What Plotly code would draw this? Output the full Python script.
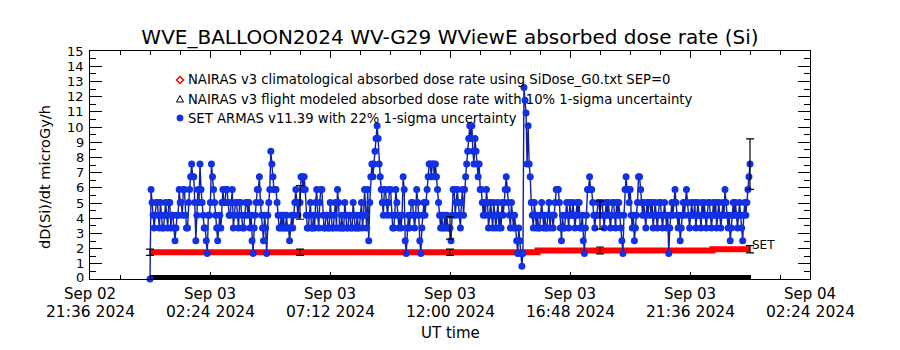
import pandas as pd
import plotly.graph_objects as go

TITLE = "WVE_BALLOON2024 WV-G29 WViewE absorbed dose rate (Si)"
FONT = "DejaVu Sans"

# SET ARMAS v11.39 absorbed dose rate (microGy/h), one sample every 150 s
set_times = pd.date_range("2024-09-03 00:00", "2024-09-04 00:00", freq="150s")
set_dose = [
    # 00 UT
    0.0, 5.88, 5.04, 4.2, 3.36, 4.2, 5.04, 5.04, 4.2, 3.36, 5.04, 4.2,
    3.36, 3.36, 4.2, 5.04, 4.2, 3.36, 5.04, 5.04, 3.36, 4.2, 4.2, 3.36,
    # 01 UT
    2.52, 3.36, 4.2, 4.2, 5.88, 5.04, 5.04, 4.2, 5.88, 5.88, 4.2, 3.36,
    3.36, 5.04, 5.88, 6.72, 7.56, 6.72, 6.72, 5.04, 2.52, 4.2, 5.88, 5.04,
    # 02 UT
    7.56, 5.88, 5.04, 4.2, 3.36, 3.36, 2.52, 1.68, 4.2, 4.2, 5.04, 7.56,
    6.72, 5.88, 5.04, 4.2, 3.36, 2.52, 3.36, 4.2, 3.36, 5.04, 5.88, 5.04,
    # 03 UT
    5.04, 5.88, 5.88, 5.04, 4.2, 4.2, 5.04, 5.88, 3.36, 4.2, 5.04, 5.04,
    4.2, 3.36, 5.04, 5.04, 4.2, 3.36, 3.36, 4.2, 5.04, 5.04, 4.2, 5.04,
    # 04 UT
    3.36, 4.2, 2.52, 1.68, 3.36, 4.2, 5.04, 5.88, 5.88, 6.72, 5.04, 4.2,
    3.36, 2.52, 4.2, 3.36, 1.68, 4.2, 5.04, 5.88, 8.4, 7.56, 6.72, 5.88,
    # 05 UT
    5.88, 5.88, 5.04, 4.2, 3.36, 3.36, 4.2, 3.36, 4.2, 3.36, 3.36, 4.2,
    3.36, 3.36, 2.52, 3.36, 4.2, 3.36, 4.2, 5.04, 5.88, 5.04, 4.2, 5.04,
    # 06 UT
    5.04, 6.72, 6.72, 5.88, 6.72, 5.88, 4.2, 3.36, 3.36, 4.2, 5.04, 3.36,
    3.36, 4.2, 3.36, 5.04, 5.88, 4.2, 3.36, 5.04, 5.88, 5.88, 4.2, 3.36,
    # 07 UT
    3.36, 4.2, 4.2, 3.36, 3.36, 5.04, 4.2, 3.36, 3.36, 4.2, 5.04, 3.36,
    5.88, 5.04, 3.36, 3.36, 4.2, 3.36, 3.36, 5.04, 4.2, 3.36, 3.36, 4.2,
    # 08 UT
    4.2, 3.36, 3.36, 5.04, 4.2, 3.36, 3.36, 4.2, 3.36, 3.36, 4.2, 5.04,
    3.36, 4.2, 5.88, 4.2, 3.36, 5.88, 2.52, 5.04, 6.72, 7.56, 6.72, 7.56,
    # 09 UT
    8.4, 9.24, 10.08, 9.24, 7.56, 6.72, 5.88, 5.04, 4.2, 5.88, 5.88, 5.04,
    4.2, 5.04, 5.88, 5.88, 4.2, 3.36, 3.36, 4.2, 5.88, 5.04, 4.2, 3.36,
    # 10 UT
    4.2, 3.36, 4.2, 6.72, 5.88, 2.52, 1.68, 3.36, 4.2, 3.36, 4.2, 5.04,
    5.04, 4.2, 3.36, 4.2, 5.88, 5.04, 4.2, 2.52, 1.68, 3.36, 4.2, 5.04,
    # 11 UT
    4.2, 5.04, 5.88, 6.72, 7.56, 7.56, 6.72, 7.56, 7.56, 6.72, 7.56, 6.72,
    5.88, 5.04, 4.2, 3.36, 4.2, 3.36, 3.36, 4.2, 3.36, 4.2, 3.36, 3.36,
    # 12 UT
    3.36, 2.52, 4.2, 5.88, 5.88, 4.2, 5.04, 5.88, 5.04, 4.2, 3.36, 5.04,
    5.88, 4.2, 5.88, 6.72, 7.56, 8.4, 9.24, 10.08, 9.24, 10.08, 8.4, 7.56,
    # 13 UT
    9.24, 8.4, 7.56, 6.72, 7.56, 5.88, 5.88, 5.04, 4.2, 5.04, 4.2, 5.88,
    5.04, 3.36, 4.2, 5.04, 4.2, 3.36, 5.04, 4.2, 3.36, 4.2, 5.04, 3.36,
    # 14 UT
    4.2, 3.36, 5.04, 4.2, 5.04, 5.88, 6.72, 5.88, 5.04, 4.2, 3.36, 5.04,
    4.2, 3.36, 4.2, 3.36, 2.52, 1.68, 3.36, 2.52, 1.68, 0.84, 1.68, 12.6,
    # 15 UT
    11.76, 10.92, 7.56, 10.08, 7.56, 6.72, 5.04, 4.2, 3.36, 5.04, 4.2, 3.36,
    4.2, 3.36, 3.36, 4.2, 5.04, 4.2, 3.36, 4.2, 3.36, 3.36, 4.2, 5.04,
    # 16 UT
    3.36, 4.2, 4.2, 3.36, 4.2, 5.04, 5.88, 5.88, 5.88, 5.04, 3.36, 2.52,
    4.2, 3.36, 3.36, 4.2, 5.04, 4.2, 3.36, 5.04, 4.2, 4.2, 5.04, 4.2,
    # 17 UT
    3.36, 4.2, 5.04, 4.2, 5.04, 3.36, 3.36, 4.2, 2.52, 1.68, 3.36, 4.2,
    5.88, 5.88, 6.72, 5.88, 5.88, 5.04, 4.2, 3.36, 4.2, 4.2, 5.04, 5.04,
    # 18 UT
    4.2, 5.04, 5.04, 4.2, 3.36, 4.2, 5.04, 4.2, 5.04, 4.2, 3.36, 4.2,
    5.04, 5.04, 4.2, 3.36, 5.04, 4.2, 5.04, 4.2, 3.36, 2.52, 1.68, 4.2,
    # 19 UT
    5.88, 6.72, 5.88, 5.88, 5.04, 5.88, 4.2, 3.36, 4.2, 2.52, 3.36, 4.2,
    5.04, 6.72, 6.72, 5.88, 5.04, 4.2, 5.04, 4.2, 3.36, 5.04, 4.2, 5.04,
    # 20 UT
    5.04, 4.2, 5.04, 3.36, 4.2, 5.04, 4.2, 3.36, 4.2, 5.04, 5.04, 4.2,
    3.36, 4.2, 5.04, 4.2, 3.36, 4.2, 1.68, 3.36, 4.2, 5.04, 4.2, 5.04,
    # 21 UT
    5.88, 5.04, 4.2, 3.36, 4.2, 2.52, 3.36, 4.2, 5.04, 4.2, 5.04, 5.88,
    5.04, 4.2, 3.36, 4.2, 5.04, 4.2, 4.2, 5.04, 3.36, 4.2, 5.04, 4.2,
    # 22 UT
    4.2, 3.36, 5.04, 4.2, 5.04, 4.2, 3.36, 4.2, 5.04, 5.04, 4.2, 3.36,
    4.2, 5.04, 4.2, 5.04, 3.36, 4.2, 5.04, 4.2, 3.36, 4.2, 5.04, 4.2,
    # 23 UT
    5.88, 5.04, 4.2, 3.36, 4.2, 2.52, 3.36, 4.2, 5.04, 4.2, 5.04, 4.2,
    3.36, 4.2, 5.04, 4.2, 3.36, 2.52, 4.2, 5.04, 4.2, 5.04, 5.88, 6.72,
    # 24 UT
    7.56,
]
# samples that carry the 22 % 1-sigma error bar (every 6 hours)
set_err_idx = [144, 288, 432, 576]

# NAIRAS v3 climatological dose rate, every 30 minutes
nairas_clim_times = pd.date_range("2024-09-03 00:00", "2024-09-04 00:00", freq="30min")
nairas_clim = [
    1.76, 1.76, 1.76, 1.76, 1.76, 1.76, 1.76, 1.76, 1.76, 1.76,
    1.76, 1.76, 1.76, 1.76, 1.76, 1.76, 1.76, 1.76, 1.76, 1.76,
    1.76, 1.76, 1.76, 1.76, 1.76, 1.76, 1.76, 1.76, 1.76, 1.76,
    1.76, 1.88, 1.88, 1.88, 1.88, 1.88, 1.88, 1.88, 1.88, 1.88,
    1.88, 1.88, 1.88, 1.88, 1.88, 1.96, 1.96, 1.96, 1.96,
]
clim_err_idx = [0, 12, 24, 36, 48]

# NAIRAS v3 flight modeled dose rate, hourly
nairas_flight_times = pd.date_range("2024-09-03 00:00", "2024-09-04 00:00", freq="60min")
nairas_flight = [
    0.0, 0.0, 0.0, 0.0, 0.0, 0.0, 0.0, 0.0, 0.0, 0.0, 0.0, 0.0, 0.0,
    0.0, 0.0, 0.0, 0.0, 0.0, 0.0, 0.0, 0.0, 0.0, 0.0, 0.0, 0.0,
]

x_range = ["2024-09-02 21:36", "2024-09-04 02:24"]
x_ticks = pd.date_range("2024-09-02 21:36", "2024-09-04 02:24", freq="288min")
y_ticks = list(range(0, 16))

legend_labels = [
    "NAIRAS v3 climatological absorbed dose rate using SiDose_G0.txt SEP=0",
    "NAIRAS v3 flight modeled absorbed dose rate with 10% 1-sigma uncertainty",
    "SET ARMAS v11.39 with 22% 1-sigma uncertainty",
]

BLUE_LINE = "#12209c"
BLUE_MARK = "#1230e4"
RED = "#ff0000"

# plot box in pixels
L, R, T, B = 90, 810, 51, 279
W, H = 900, 350


def px(x):
    return (x - L) / (R - L)


def py(y):
    return (B - y) / (B - T)


fig = go.Figure()

fig.add_trace(go.Scatter(
    x=nairas_flight_times, y=nairas_flight, mode="lines",
    line=dict(color="black", width=8), hoverinfo="skip"))

fig.add_trace(go.Scatter(
    x=nairas_clim_times, y=nairas_clim, mode="lines",
    line=dict(color=RED, width=6, shape="hv"), hoverinfo="skip"))

fig.add_trace(go.Scatter(
    x=set_times, y=set_dose, mode="lines+markers",
    line=dict(color=BLUE_LINE, width=1.4),
    marker=dict(color=BLUE_MARK, size=7, symbol="circle"),
    cliponaxis=False, hoverinfo="skip"))

# error bars
fig.add_trace(go.Scatter(
    x=[nairas_clim_times[i] for i in clim_err_idx],
    y=[nairas_clim[i] for i in clim_err_idx],
    mode="markers", marker=dict(color="rgba(0,0,0,0)", size=1),
    error_y=dict(type="percent", value=12, color="black", thickness=1.2, width=4),
    hoverinfo="skip"))
fig.add_trace(go.Scatter(
    x=[set_times[i] for i in set_err_idx],
    y=[set_dose[i] for i in set_err_idx],
    mode="markers", marker=dict(color="rgba(0,0,0,0)", size=1),
    error_y=dict(type="percent", value=22, color="black", thickness=1.2, width=4),
    hoverinfo="skip"))

annotations = []
# two-line date labels under the x axis
for t in x_ticks:
    annotations.append(dict(x=t, y=py(294), xref="x", yref="paper",
                            text=t.strftime("%b %d"), showarrow=False,
                            xanchor="center", yanchor="middle",
                            font=dict(size=15, family=FONT, color="black")))
    annotations.append(dict(x=t, y=py(312), xref="x", yref="paper",
                            text=t.strftime("%H:%M %Y"), showarrow=False,
                            xanchor="center", yanchor="middle",
                            font=dict(size=15.5, family=FONT, color="black")))

# y tick labels; the bottom label sits just above the axis line
for v in y_ticks:
    shift = 2 if v == y_ticks[0] else 0
    annotations.append(dict(x=px(85), y=v, xref="paper", yref="y", yshift=shift,
                            text=str(v), showarrow=False, xanchor="right",
                            yanchor="middle", borderpad=0,
                            font=dict(size=13, family=FONT, color="black")))

annotations.append(dict(x=0.5, y=py(333), xref="paper", yref="paper",
                        text="UT time", showarrow=False, xanchor="center",
                        yanchor="middle", font=dict(size=15, family=FONT, color="black")))
annotations.append(dict(x=px(45), y=py(177), xref="paper", yref="paper",
                        text="dD(Si)/dt microGy/h", textangle=-90, showarrow=False,
                        xanchor="center", yanchor="middle",
                        font=dict(size=14.5, family=FONT, color="black")))
annotations.append(dict(x=px(750), y=py(245), xref="paper", yref="paper",
                        text="SET", showarrow=False, xanchor="left", yanchor="middle",
                        font=dict(size=12, family=FONT, color="black")))

legend_rows = [80, 99, 118]
for label, row in zip(legend_labels, legend_rows):
    annotations.append(dict(x=px(186), y=py(row), xref="paper", yref="paper",
                            text=label, showarrow=False, xanchor="left",
                            yanchor="middle",
                            font=dict(size=13.2, family=FONT, color="black")))

shapes = [
    dict(type="path", xref="paper", yref="paper", xsizemode="pixel", ysizemode="pixel",
         xanchor=px(180), yanchor=py(legend_rows[0]),
         path="M0,3.5 L3.5,0 L0,-3.5 L-3.5,0 Z",
         line=dict(color=RED, width=1.5), fillcolor="rgba(0,0,0,0)"),
    dict(type="path", xref="paper", yref="paper", xsizemode="pixel", ysizemode="pixel",
         xanchor=px(180), yanchor=py(legend_rows[1]),
         path="M0,3.5 L3.5,-3 L-3.5,-3 Z",
         line=dict(color="black", width=1), fillcolor="rgba(0,0,0,0)"),
    dict(type="circle", xref="paper", yref="paper", xsizemode="pixel", ysizemode="pixel",
         xanchor=px(180), yanchor=py(legend_rows[2]),
         x0=-3.2, x1=3.2, y0=-3.2, y1=3.2,
         line=dict(color=BLUE_MARK, width=0.5), fillcolor=BLUE_MARK),
]

fig.update_layout(
    width=W, height=H,
    margin=dict(l=L, r=W - R, t=T, b=H - B, pad=0),
    paper_bgcolor="white", plot_bgcolor="white",
    showlegend=False,
    font=dict(family=FONT, color="black"),
    title=dict(text=TITLE, x=0.5, xanchor="center", y=1 - 37 / H, yanchor="middle",
               yref="container", font=dict(size=20, family=FONT, color="black")),
    annotations=annotations,
    shapes=shapes,
)

fig.update_xaxes(
    type="date", range=x_range, tickvals=list(x_ticks), showticklabels=False,
    ticks="inside", ticklen=7, tickwidth=1, tickcolor="black",
    showline=True, linecolor="black", linewidth=1, mirror="allticks",
    showgrid=False, zeroline=False,
    minor=dict(tick0=x_range[0], dtick=72 * 60 * 1000, ticks="inside",
               ticklen=4, tickcolor="black", showgrid=False),
)
fig.update_yaxes(
    range=[0, 15], tickvals=y_ticks, showticklabels=False,
    ticks="inside", ticklen=12, tickwidth=1,
    tickcolor="black", showline=True, linecolor="black", linewidth=1,
    mirror="allticks", showgrid=False, zeroline=False,
    minor=dict(dtick=0.5, ticks="inside", ticklen=6, tickcolor="black", showgrid=False),
)

fig.write_html("out.html")
